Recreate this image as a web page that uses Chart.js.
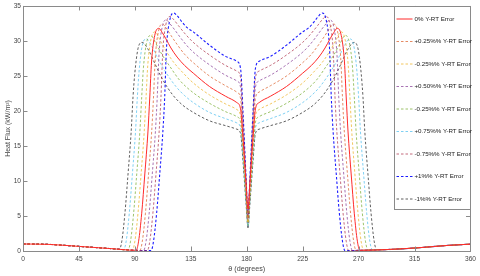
<!DOCTYPE html>
<html>
<head>
<meta charset="utf-8">
<script src="https://cdn.jsdelivr.net/npm/chart.js@4.4.0/dist/chart.umd.min.js"></script>
<style>
  html, body { margin: 0; padding: 0; background: #fff; }
  #wrap { width: 480px; height: 276px; }
</style>
</head>
<body>
<div id="wrap"><canvas id="chart" width="480" height="276"></canvas></div>
<script>
// theta (degrees) and heat flux (kW/m2), one pair of arrays per curve
const thetaRed = [0, 20, 45, 70, 91, 93, 95.5, 98, 100.5, 102, 103.4, 106, 109.3, 112, 115, 119, 124, 130, 137, 150, 163, 172, 175, 177, 179.5, 181, 182.5, 185, 187, 190, 199, 212, 225, 232, 238, 243, 247, 250, 252.7, 256, 258.6, 260, 261.5, 264, 266.5, 269, 271, 292, 317, 342, 360]
const fluxRed = [1.0, 0.95, 0.66, 0.35, 0.1, 1.4, 5.4, 11, 17, 22, 27, 30.8, 31.8, 31.2, 30.3, 29.0, 27.7, 26.5, 25.4, 23.5, 22.1, 21.2, 20.3, 16.0, 9.6, 6.0, 9.6, 16.0, 20.3, 21.2, 22.1, 23.5, 25.4, 26.5, 27.7, 29.0, 30.3, 31.2, 31.8, 30.8, 27, 22, 17, 11, 5.4, 1.4, 0.1, 0.2, 0.45, 0.8, 0.98]

const thetaP025 = [0, 20, 45, 70, 90, 94, 96, 98.5, 101, 103.5, 105, 106.4, 109, 112.3, 115, 119, 124, 130, 137, 150, 163, 172, 175, 177, 179.5, 181, 182.5, 185, 187, 190, 199, 212, 225, 232, 238, 243, 247, 249.7, 253, 255.6, 257, 258.5, 261, 263.5, 266, 268, 272, 292, 317, 342, 360]
const fluxP025 = [1.0, 0.95, 0.66, 0.35, 0.1, 0.08, 1.4, 5.4, 11, 17, 22, 27.5, 31.4, 32.4, 31.9, 30.8, 29.5, 28.1, 26.9, 25.0, 23.6, 22.7, 21.8, 16.6, 8.8, 4.4, 8.8, 16.6, 21.8, 22.7, 23.6, 25.0, 26.9, 28.1, 29.5, 30.8, 31.9, 32.4, 31.4, 27.5, 22, 17, 11, 5.4, 1.4, 0.08, 0.1, 0.2, 0.45, 0.8, 0.98]

const thetaM025 = [0, 20, 45, 70, 88, 90, 92.5, 95, 97.5, 99, 100.4, 103, 106.3, 110, 115, 121, 129, 137, 150, 163, 172, 175, 177, 179.5, 181, 182.5, 185, 187, 190, 199, 212, 225, 233, 241, 247, 252, 255.7, 259, 261.6, 263, 264.5, 267, 269.5, 272, 274, 292, 317, 342, 360]
const fluxM025 = [1.0, 0.95, 0.66, 0.35, 0.12, 1.4, 5.4, 11, 17, 22, 26.6, 30.3, 31.3, 30.2, 28.6, 27.0, 25.4, 24.0, 22.3, 21.0, 20.2, 19.3, 14.7, 7.8, 4.0, 7.8, 14.7, 19.3, 20.2, 21.0, 22.3, 24.0, 25.4, 27.0, 28.6, 30.2, 31.3, 30.3, 26.6, 22, 17, 11, 5.4, 1.4, 0.12, 0.2, 0.45, 0.8, 0.98]

const thetaP050 = [0, 20, 45, 70, 90, 97, 99, 101.5, 104, 106.5, 108, 109.4, 112, 115.3, 118, 122, 127, 132, 137, 150, 163, 172, 175, 177, 179.5, 181, 182.5, 185, 187, 190, 199, 212, 225, 230, 235, 240, 244, 246.7, 250, 252.6, 254, 255.5, 258, 260.5, 263, 265, 272, 292, 317, 342, 360]
const fluxP050 = [1.0, 0.95, 0.66, 0.35, 0.1, 0.07, 1.4, 5.4, 11, 17, 22, 28.0, 32.0, 33.0, 32.5, 31.6, 30.4, 29.3, 28.4, 26.6, 25.1, 24.3, 23.4, 17.8, 9.3, 4.6, 9.3, 17.8, 23.4, 24.3, 25.1, 26.6, 28.4, 29.3, 30.4, 31.6, 32.5, 33.0, 32.0, 28.0, 22, 17, 11, 5.4, 1.4, 0.07, 0.1, 0.2, 0.45, 0.8, 0.98]

const thetaM050 = [0, 20, 45, 70, 84.5, 86.5, 89, 91.5, 94, 95.5, 96.9, 99.5, 102.8, 107, 112, 118, 126, 137, 150, 163, 172, 175, 177, 179.5, 181, 182.5, 185, 187, 190, 199, 212, 225, 236, 244, 250, 255, 259.2, 262.5, 265.1, 266.5, 268, 270.5, 273, 275.5, 277.5, 292, 317, 342, 360]
const fluxM050 = [1.0, 0.95, 0.66, 0.35, 0.15, 1.4, 5.4, 11, 17, 22, 26.2, 29.8, 30.8, 29.6, 28.0, 26.4, 24.4, 22.6, 21.1, 19.9, 19.2, 18.4, 14.0, 7.4, 3.7, 7.4, 14.0, 18.4, 19.2, 19.9, 21.1, 22.6, 24.4, 26.4, 28.0, 29.6, 30.8, 29.8, 26.2, 22, 17, 11, 5.4, 1.4, 0.15, 0.2, 0.45, 0.8, 0.98]

const thetaM075 = [0, 20, 45, 70, 81, 83, 85.5, 88, 90.5, 92, 93.4, 96, 99.3, 104, 109, 115, 123, 130, 137, 150, 163, 172, 175, 177, 179.5, 181, 182.5, 185, 187, 190, 199, 212, 225, 232, 239, 247, 253, 258, 262.7, 266, 268.6, 270, 271.5, 274, 276.5, 279, 281, 292, 317, 342, 360]
const fluxM075 = [1.0, 0.95, 0.66, 0.35, 0.2, 1.4, 5.4, 11, 17, 22, 25.7, 29.4, 30.3, 29.1, 27.3, 25.5, 23.5, 22.2, 21.2, 19.8, 18.9, 18.3, 17.6, 13.4, 7.0, 3.5, 7.0, 13.4, 17.6, 18.3, 18.9, 19.8, 21.2, 22.2, 23.5, 25.5, 27.3, 29.1, 30.3, 29.4, 25.7, 22, 17, 11, 5.4, 1.4, 0.2, 0.2, 0.45, 0.8, 0.98]

const thetaP075 = [0, 20, 45, 70, 90, 100, 102, 104.5, 107, 109.5, 111, 112.4, 115, 118.3, 121, 125, 131, 137, 150, 163, 172, 175, 177, 179.5, 181, 182.5, 185, 187, 190, 199, 212, 225, 231, 237, 241, 243.7, 247, 249.6, 251, 252.5, 255, 257.5, 260, 262, 272, 292, 317, 342, 360]
const fluxP075 = [1.0, 0.95, 0.66, 0.35, 0.1, 0.06, 1.4, 5.4, 11, 17, 22, 28.4, 32.4, 33.5, 33.1, 32.2, 30.9, 29.8, 28.0, 26.5, 25.7, 24.8, 18.8, 9.8, 4.8, 9.8, 18.8, 24.8, 25.7, 26.5, 28.0, 29.8, 30.9, 32.2, 33.1, 33.5, 32.4, 28.4, 22, 17, 11, 5.4, 1.4, 0.06, 0.1, 0.2, 0.45, 0.8, 0.98]

const thetaP1 = [0, 20, 45, 70, 90, 103, 105, 107.5, 110, 112.5, 114, 115.4, 118, 121.3, 124, 128, 132, 137, 150, 163, 172, 175, 177, 179.5, 181, 182.5, 185, 187, 190, 199, 212, 225, 230, 234, 238, 240.7, 244, 246.6, 248, 249.5, 252, 254.5, 257, 259, 272, 292, 317, 342, 360]
const fluxP1 = [1.0, 0.95, 0.66, 0.35, 0.1, 0.05, 1.4, 5.4, 11, 17, 22, 28.9, 32.9, 34.0, 33.6, 32.7, 31.9, 31.3, 29.4, 27.8, 27.1, 26.1, 19.8, 10.3, 5.0, 10.3, 19.8, 26.1, 27.1, 27.8, 29.4, 31.3, 31.9, 32.7, 33.6, 34.0, 32.9, 28.9, 22, 17, 11, 5.4, 1.4, 0.05, 0.1, 0.2, 0.45, 0.8, 0.98]

const thetaM1 = [0, 20, 45, 70, 77.5, 79.5, 82, 84.5, 87, 88.5, 89.9, 92.5, 95.8, 101, 106, 112, 120, 128, 137, 150, 163, 172, 175, 177, 179.5, 181, 182.5, 185, 187, 190, 199, 212, 225, 234, 242, 250, 256, 261, 266.2, 269.5, 272.1, 273.5, 275, 277.5, 280, 282.5, 284.5, 292, 317, 342, 360]
const fluxM1 = [1.0, 0.95, 0.66, 0.35, 0.25, 1.4, 5.4, 11, 17, 22, 25.3, 28.9, 29.8, 28.7, 26.8, 24.6, 22.4, 20.9, 19.8, 18.6, 17.9, 17.4, 16.8, 12.7, 6.6, 3.2, 6.6, 12.7, 16.8, 17.4, 17.9, 18.6, 19.8, 20.9, 22.4, 24.6, 26.8, 28.7, 29.8, 28.9, 25.3, 22, 17, 11, 5.4, 1.4, 0.2, 0.2, 0.45, 0.8, 0.98]

const xTicks = [0, 45, 90, 135, 180, 225, 270, 315, 360]
const yTicks = [0, 5, 10, 15, 20, 25, 30, 35]

const labels = ["0% Y-RT Error", "+0.25%% Y-RT Error", "-0.25%% Y-RT Error", "+0.50%% Y-RT Error", "-0.25%% Y-RT Error",
    "+0.75%% Y-RT Error", "-0.75%% Y-RT Error", "+1%% Y-RT Error", "-1%% Y-RT Error"]
const colors = ["#ff2a2a", "rgba(217,83,25,0.8)", "rgba(237,177,32,0.85)", "rgba(126,47,142,0.8)", "rgba(119,172,48,0.85)",
    "rgba(77,190,238,0.85)", "rgba(162,20,47,0.75)", "#1a1aff", "rgba(0,0,0,0.75)"]
const thetas = [thetaRed, thetaP025, thetaM025, thetaP050, thetaM050, thetaM075, thetaP075, thetaP1, thetaM1]
const fluxes = [fluxRed, fluxP025, fluxM025, fluxP050, fluxM050, fluxM075, fluxP075, fluxP1, fluxM1]

const pts = (t, f) => t.map((v, i) => ({x: v, y: f[i]}))

const datasets = labels.map((lab, i) => ({
    label: lab,
    data: pts(thetas[i], fluxes[i]),
    borderColor: colors[i],
    borderWidth: i == 0 ? 1 : (i == 7 ? 1.1 : 0.85),
    borderDash: i == 0 ? [] : [2.5, 2],
    pointRadius: 0,
    fill: false,
    cubicInterpolationMode: "monotone"
}))

Chart.defaults.font.family = "'Liberation Sans', Arial, sans-serif"
Chart.defaults.color = "#444"

const frame = {
    id: "frame",
    afterDatasetsDraw(chart) {
        const ctx = chart.ctx
        const a = chart.chartArea
        const xs = chart.scales.x, ys = chart.scales.y
        ctx.save()
        ctx.strokeStyle = "#8a8a8a"
        ctx.lineWidth = 1
        ctx.beginPath()
        xTicks.forEach(t => {
            const px = Math.round(xs.getPixelForValue(t)) + 0.5
            ctx.moveTo(px, a.bottom); ctx.lineTo(px, a.bottom - 4.5)
            ctx.moveTo(px, a.top); ctx.lineTo(px, a.top + 4.5)
        })
        yTicks.forEach(t => {
            const py = Math.round(ys.getPixelForValue(t)) + 0.5
            ctx.moveTo(a.left, py); ctx.lineTo(a.left + 4.5, py)
            ctx.moveTo(a.right, py); ctx.lineTo(a.right - 4.5, py)
        })
        ctx.stroke()
        ctx.strokeRect(Math.round(a.left) + 0.5, Math.round(a.top) + 0.5, Math.round(a.right - a.left), Math.round(a.bottom - a.top))
        ctx.restore()
    },
    afterDraw(chart) {
        // legend box inside the plot, top right
        const ctx = chart.ctx
        const a = chart.chartArea
        const x0 = 394.5, y0 = Math.round(a.top) + 0.5, x1 = Math.round(a.right) + 0.5, y1 = 209.5
        ctx.save()
        ctx.fillStyle = "#fff"
        ctx.fillRect(x0, y0, x1 - x0, y1 - y0)
        ctx.strokeStyle = "#8a8a8a"
        ctx.lineWidth = 1
        ctx.strokeRect(x0, y0, x1 - x0, y1 - y0)
        ctx.font = "6.2px 'Liberation Sans', Arial"
        ctx.textBaseline = "middle"
        chart.data.datasets.forEach((ds, i) => {
            const y = y0 + 12.5 + i * 22.5
            ctx.strokeStyle = ds.borderColor
            ctx.lineWidth = ds.borderWidth
            ctx.setLineDash(ds.borderDash)
            ctx.beginPath()
            ctx.moveTo(x0 + 2, y); ctx.lineTo(x0 + 18, y)
            ctx.stroke()
            ctx.setLineDash([])
            ctx.fillStyle = "#222"
            ctx.fillText(ds.label, x0 + 20, y)
        })
        ctx.restore()
    }
}

const ctx = document.getElementById("chart").getContext("2d")
new Chart(ctx, {
    type: "line",
    data: {datasets: datasets},
    options: {
        responsive: false,
        animation: false,
        devicePixelRatio: 1,
        layout: {padding: {top: 4, right: 8, left: 0, bottom: 0}},
        plugins: {legend: {display: false}, tooltip: {enabled: false}},
        scales: {
            x: {
                type: "linear",
                min: 0, max: 360,
                afterBuildTicks: s => { s.ticks = xTicks.map(v => ({value: v})) },
                afterFit: s => { s.height = 25 },
                grid: {display: false, drawTicks: false},
                border: {display: false},
                ticks: {font: {size: 6.6}, padding: 4, maxRotation: 0, autoSkip: false},
                title: {display: true, text: "θ (degrees)", font: {size: 7.2}, padding: {top: 0, bottom: 3}}
            },
            y: {
                min: 0, max: 35,
                afterBuildTicks: s => { s.ticks = yTicks.map(v => ({value: v})) },
                afterFit: s => { s.width = 23 },
                grid: {display: false, drawTicks: false},
                border: {display: false},
                ticks: {font: {size: 6.6}, padding: 2},
                title: {display: true, text: "Heat Flux (kW/m²)", font: {size: 7}, padding: {top: 4, bottom: 0}}
            }
        }
    },
    plugins: [frame]
})
</script>
</body>
</html>
